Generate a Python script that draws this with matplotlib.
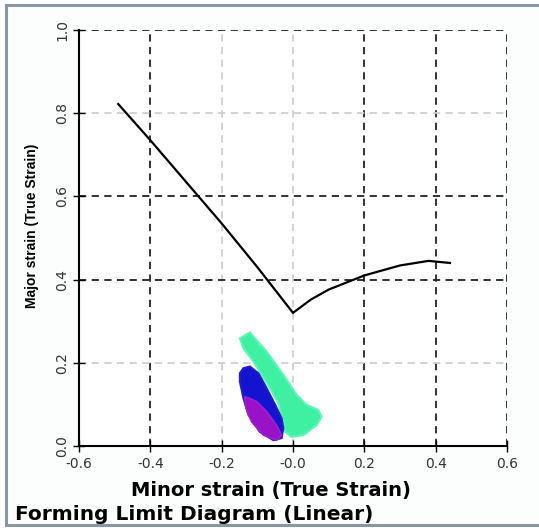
import matplotlib
matplotlib.use("Agg")
import matplotlib.pyplot as plt
from matplotlib.patches import Rectangle

# forming limit curve (minor, major)
flc_minor = [-0.49, -0.40, -0.30, -0.20, -0.10, 0.0, 0.05, 0.10, 0.20, 0.30, 0.38, 0.44]
flc_major = [0.822, 0.735, 0.635, 0.535, 0.430, 0.320, 0.352, 0.376, 0.410, 0.434, 0.445, 0.440]

# outlines of the measured strain clouds
green_x = [-0.149, -0.121, -0.074, -0.027, 0.010, 0.038, 0.071, 0.080, 0.066, 0.029,
           -0.004, -0.022, -0.027, -0.041, -0.065, -0.088, -0.111, -0.139]
green_y = [0.259, 0.273, 0.227, 0.171, 0.123, 0.099, 0.087, 0.070, 0.050, 0.026,
           0.022, 0.034, 0.058, 0.103, 0.139, 0.171, 0.203, 0.235]
blue_x = [-0.139, -0.121, -0.097, -0.074, -0.050, -0.032, -0.027, -0.032, -0.055, -0.093,
          -0.125, -0.139, -0.149, -0.149]
blue_y = [0.187, 0.191, 0.175, 0.139, 0.099, 0.067, 0.043, 0.019, 0.014, 0.034,
          0.075, 0.115, 0.155, 0.175]
purple_x = [-0.135, -0.102, -0.074, -0.046, -0.032, -0.046, -0.083, -0.116, -0.132]
purple_y = [0.119, 0.107, 0.083, 0.050, 0.026, 0.014, 0.026, 0.058, 0.091]

xticks = [-0.6, -0.4, -0.2, 0.0, 0.2, 0.4, 0.6]
xlabels = ["-0.6", "-0.4", "-0.2", "-0.0", "0.2", "0.4", "0.6"]
yticks = [0.0, 0.2, 0.4, 0.6, 0.8, 1.0]
ylabels = ["0.0", "0.2", "0.4", "0.6", "0.8", "1.0"]

fig = plt.figure(figsize=(5.39, 5.28), dpi=100)
fig.patches.append(Rectangle((0.012, 0.006), 1.0, 0.984, transform=fig.transFigure,
                             facecolor="#fcfdfd", edgecolor="#8a96a3", lw=2.2, zorder=-5))
ax = fig.add_axes([0.1466, 0.1553, 0.7940, 0.7879])
ax.set_facecolor("white")

ax.fill(green_x, green_y, color="#3ff0a2", lw=1.5, ec="#5ef5b5")
ax.fill(blue_x, blue_y, color="#1414d0", lw=1.5, ec="#2020c0")
ax.fill(purple_x, purple_y, color="#9a12c8", lw=1.2, ec="#a020d0")
ax.plot(flc_minor, flc_major, color="black", lw=1.6)

ax.set_xlim(-0.6, 0.6)
ax.set_ylim(0.0, 1.0)
ax.set_xticks(xticks)
ax.set_xticklabels(xlabels)
ax.set_yticks(yticks)
ax.set_yticklabels(ylabels, rotation=90, va="center")
ax.tick_params(direction="inout", length=8, width=1, labelsize=10, colors="black")
ax.tick_params(axis="x", pad=4, labelcolor="#333333")
ax.tick_params(axis="y", pad=3, labelcolor="#333333")
for s in ["top", "right"]:
    ax.spines[s].set_visible(False)
for s in ["left", "bottom"]:
    ax.spines[s].set_linewidth(1.5)

ax.grid(True, linestyle=(0, (4, 3)), lw=1.3, color="#222222")
ax.set_axisbelow(True)
# some grid lines look faint in the original
for i, g in enumerate(ax.xaxis.get_gridlines()):
    if xticks[i] in (-0.2, 0.0):
        g.set_color("#d0d0d0")
    if xticks[i] == -0.6:
        g.set_visible(False)
for i, g in enumerate(ax.yaxis.get_gridlines()):
    if yticks[i] in (0.2, 0.8):
        g.set_color("#d0d0d0")
    if yticks[i] == 0.0:
        g.set_visible(False)

fig.text(0.060, 0.572, "Major strain (True Strain)", rotation=90, ha="center", va="center",
         fontsize=10, fontweight="bold", family=["Liberation Sans Narrow", "Liberation Sans"])
fig.text(0.503, 0.071, "Minor strain (True Strain)", ha="center", va="center",
         fontsize=14, fontweight="bold")
fig.text(0.028, 0.026, "Forming Limit Diagram (Linear)", ha="left", va="center",
         fontsize=14.5, fontweight="bold")

fig.savefig("out.png", dpi=100)
